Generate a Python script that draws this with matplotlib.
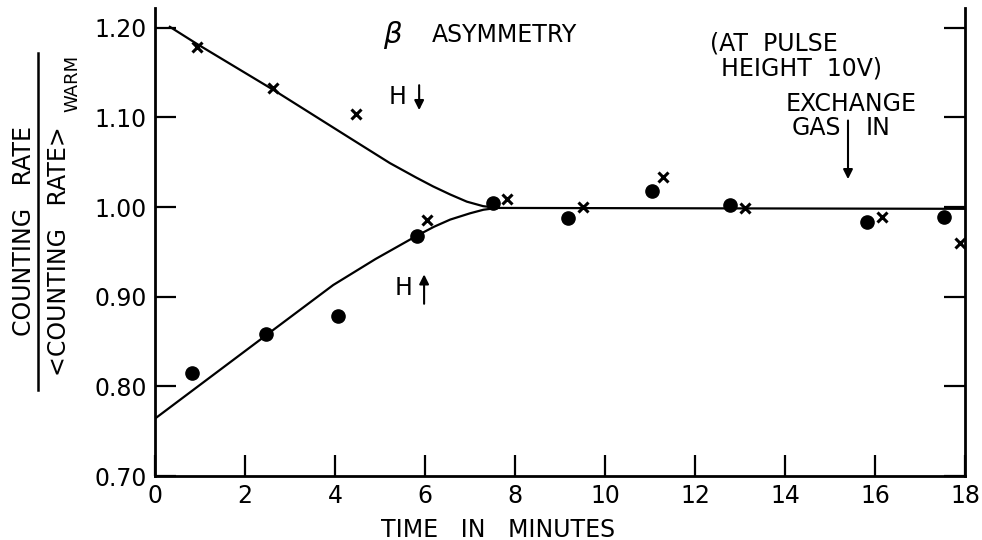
import matplotlib
matplotlib.use("Agg")
import matplotlib.pyplot as plt
from matplotlib.lines import Line2D

# time in minutes, counting rate / <counting rate>warm
cross_t = [0.93, 2.62, 4.47, 6.04, 7.82, 9.51, 11.29, 13.10, 16.16, 17.90]
cross_r = [1.179, 1.133, 1.104, 0.985, 1.009, 1.000, 1.034, 0.999, 0.989, 0.960]

dot_t = [0.82, 2.47, 4.07, 5.82, 7.51, 9.18, 11.04, 12.78, 15.82, 17.53]
dot_r = [0.815, 0.858, 0.879, 0.968, 1.005, 0.988, 1.018, 1.002, 0.983, 0.989]

# hand drawn curves
upper_t = [0.33, 0.93, 2.62, 4.33, 5.22, 5.8, 6.18, 6.56, 6.93, 7.29, 7.6]
upper_r = [1.201, 1.182, 1.131, 1.077, 1.049, 1.033, 1.023, 1.014, 1.006, 1.001, 0.999]

lower_t = [0.0, 2.47, 3.96, 4.9, 5.82, 6.2, 6.56, 7.0, 7.3, 7.6, 18.0]
lower_r = [0.764, 0.857, 0.913, 0.942, 0.968, 0.978, 0.986, 0.993, 0.997, 0.999, 0.998]

x_ticks = [0, 2, 4, 6, 8, 10, 12, 14, 16, 18]
y_ticks = [0.70, 0.80, 0.90, 1.00, 1.10, 1.20]

plt.rcParams["font.family"] = ["DejaVu Sans"]
fs = 17

fig = plt.figure(figsize=(9.82, 5.40), dpi=100)
ax = fig.add_axes([155 / 982, 1 - 476 / 540, 810 / 982, 468 / 540])

ax.plot(upper_t, upper_r, color="k", lw=1.6)
ax.plot(lower_t, lower_r, color="k", lw=1.6)
ax.plot(dot_t, dot_r, "o", color="k", ms=9.5)
ax.plot(cross_t, cross_r, "x", color="k", ms=7, mew=2.2)

ax.set_xlim(0, 18)
ax.set_ylim(0.70, 1.222)
ax.set_xticks(x_ticks)
ax.set_xticklabels([str(t) for t in x_ticks])
ax.set_yticks(y_ticks)
ax.set_yticklabels(["%.2f" % v for v in y_ticks])

ax.spines["top"].set_visible(False)
for s in ["left", "right", "bottom"]:
    ax.spines[s].set_linewidth(2)
ax.tick_params(direction="in", length=15, width=1.6, labelsize=fs, pad=6)
ax.tick_params(axis="y", right=True)

ax.text(0.424, -0.115, "TIME   IN   MINUTES", transform=ax.transAxes,
        ha="center", va="center", fontsize=fs)

# annotations
ax.text(5.29, 1.192, r"$\beta$", fontsize=fs + 4, ha="center", va="center")
ax.text(6.16, 1.192, "ASYMMETRY", fontsize=fs, ha="left", va="center")
ax.text(13.75, 1.182, "(AT  PULSE", fontsize=fs, ha="center", va="center")
ax.text(14.36, 1.154, "HEIGHT  10V)", fontsize=fs, ha="center", va="center")
ax.text(15.47, 1.115, "EXCHANGE", fontsize=fs, ha="center", va="center")
ax.text(14.69, 1.088, "GAS", fontsize=fs, ha="center", va="center")
ax.text(16.07, 1.088, "IN", fontsize=fs, ha="center", va="center")
ax.annotate("", xy=(15.4, 1.028), xytext=(15.4, 1.0996),
            arrowprops=dict(arrowstyle="-|>", color="k", lw=1.5, mutation_scale=14))

ax.text(5.4, 1.123, "H", fontsize=fs, ha="center", va="center")
ax.annotate("", xy=(5.87, 1.105), xytext=(5.87, 1.139),
            arrowprops=dict(arrowstyle="-|>", color="k", lw=1.5, mutation_scale=14))
ax.text(5.53, 0.910, "H", fontsize=fs, ha="center", va="center")
ax.annotate("", xy=(5.98, 0.928), xytext=(5.98, 0.889),
            arrowprops=dict(arrowstyle="-|>", color="k", lw=1.5, mutation_scale=14))

# y label written as a fraction
fig.text(24 / 982, 1 - 231 / 540, "COUNTING   RATE", rotation=90,
         ha="center", va="center", fontsize=fs)
fig.text(59 / 982, 1 - 251 / 540, "<COUNTING   RATE>", rotation=90,
         ha="center", va="center", fontsize=fs)
fig.text(72 / 982, 1 - 83 / 540, "WARM", rotation=90,
         ha="center", va="center", fontsize=fs - 4)
fig.add_artist(Line2D([38 / 982, 38 / 982], [1 - 53 / 540, 1 - 390 / 540],
                      transform=fig.transFigure, color="k", lw=1.8))

fig.savefig("out.png", dpi=100)
